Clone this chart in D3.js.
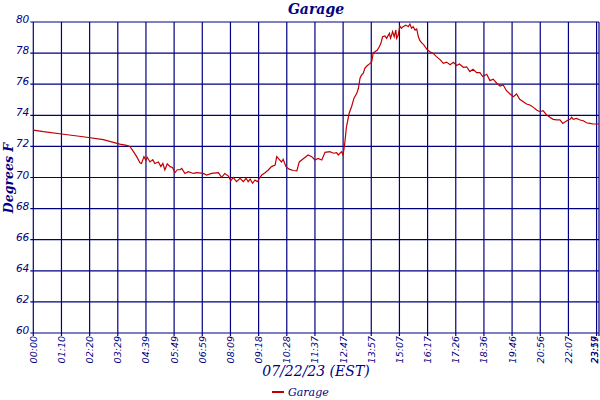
<!DOCTYPE html>
<html><head><meta charset="utf-8">
<script src="https://cdn.jsdelivr.net/npm/d3@7"></script>
<style>body{margin:0;background:#fff}</style>
</head><body>
<svg id="c" width="600" height="400"></svg>
<script>
const title = "Garage";
const yTitle = "Degrees F";
const xTitle = "07/22/23 (EST)";
const seriesName = "Garage";
const tickIdx = [0,70,140,210,280,350,420,490,560,630,700,770,840,910,980,1050,1120,1190,1260,1330,1400,1406];
const tickLabels = ["00:00","01:10","02:20","03:29","04:39","05:49","06:59","08:09","09:18","10:28","11:37","12:47","13:57","15:07","16:17","17:26","18:36","19:46","20:56","22:07","23:17","23:59"];
const yTicks = [60,62,64,66,68,70,72,74,76,78,80];
const sampleIdx = [0,25,75,124,174,215,232,240,249,257,265,269,275,280,283,290,297,302,311,317,322,327,333,340,346,352,358,365,369,377,385,398,406,422,431,443,460,468,476,485,491,497,505,514,522,529,534,539,545,551,557,562,568,576,584,592,601,605,611,617,621,628,636,646,655,661,671,683,692,700,708,717,725,737,746,754,758,766,770,773,775,778,785,791,797,804,808,812,816,820,824,829,837,841,845,849,855,860,864,868,874,878,885,888,893,897,901,903,907,911,915,919,926,932,936,940,944,949,953,957,961,965,971,978,986,994,1002,1011,1019,1027,1036,1044,1052,1059,1069,1077,1085,1093,1102,1110,1117,1127,1135,1143,1152,1160,1168,1176,1185,1193,1201,1209,1218,1226,1234,1243,1251,1259,1267,1276,1284,1292,1301,1309,1316,1326,1334,1338,1342,1350,1359,1367,1375,1383,1392,1404,1406];
const temps = [73.05,72.95,72.78,72.62,72.43,72.15,72.07,72.0,71.66,71.34,70.95,70.91,71.34,71.1,71.3,71.0,71.15,70.9,71.0,70.7,70.9,70.48,70.88,70.7,70.65,70.31,70.5,70.5,70.59,70.26,70.37,70.26,70.31,70.26,70.16,70.26,70.31,70.01,70.26,70.09,69.8,70.0,69.73,69.95,69.73,69.95,69.73,69.9,69.63,69.84,69.73,69.95,70.16,70.31,70.48,70.7,70.8,71.34,71.17,71.0,71.17,70.7,70.54,70.45,70.43,71.0,71.2,71.45,71.34,71.13,71.23,71.13,71.62,71.66,71.56,71.6,71.45,71.66,71.45,72.0,72.41,73.2,74.13,74.55,75.1,75.41,75.74,76.38,76.6,76.7,77.02,77.17,77.34,77.45,78.03,78.09,78.2,78.41,78.63,79.05,79.1,78.95,79.27,78.95,79.38,79.05,79.48,78.95,79.16,79.74,79.59,79.7,79.8,79.7,79.87,79.6,79.7,79.48,79.55,79.05,78.8,78.67,78.52,78.24,78.09,77.98,77.77,77.58,77.34,77.42,77.25,77.41,77.2,77.3,77.09,77.12,76.81,76.96,76.74,76.74,76.49,76.64,76.23,76.32,76.06,75.88,75.95,75.58,75.37,75.2,75.37,75.03,74.87,74.73,74.66,74.51,74.34,74.23,74.3,74.02,73.87,73.74,73.7,73.7,73.48,73.65,73.74,73.87,73.74,73.8,73.7,73.65,73.52,73.48,73.44,73.44,73.44];

const navy = "#000080", red = "#c00000";
const serif = "'DejaVu Serif', serif";
const sans = "'DejaVu Sans', sans-serif";
const svg = d3.select("#c");
const m = {l:33.3, r:599, t:22, b:333};
const x = d3.scaleLinear().domain([0, 1406]).range([m.l, m.r]);
const y = d3.scaleLinear().domain([60, 80]).range([m.b, m.t]);

// grid
const g = svg.append("g");
g.selectAll("line.v").data(tickIdx).join("line")
  .attr("x1", d=>x(d)).attr("x2", d=>x(d)).attr("y1", m.t).attr("y2", m.b+3)
  .attr("stroke", navy).attr("stroke-width", 1.2);
g.selectAll("line.h").data(yTicks).join("line")
  .attr("x1", m.l-3).attr("x2", m.r).attr("y1", d=>y(d)).attr("y2", d=>y(d))
  .attr("stroke", navy).attr("stroke-width", 1.2);

// y labels
svg.append("g").selectAll("text").data(yTicks).join("text")
  .attr("x", m.l-4).attr("y", d=>y(d)+1).attr("text-anchor","end")
  .attr("font-family", sans).attr("font-style","italic").attr("font-size", 10.5)
  .attr("fill", navy).text(d=>d);

// x labels
svg.append("g").selectAll("text").data(tickIdx).join("text")
  .attr("transform", d=>`translate(${Math.min(x(d)+3.5, 598)},${m.b+3}) rotate(-90)`)
  .attr("text-anchor","end")
  .attr("font-family", sans).attr("font-style","italic").attr("font-size", 9.5)
  .attr("fill", navy).text((d,i)=>tickLabels[i]);

// line
const line = d3.line().x((d,i)=>x(sampleIdx[i])).y(d=>y(d));
svg.append("path").datum(temps).attr("d", line)
  .attr("fill","none").attr("stroke", red).attr("stroke-width", 1.2);

// titles
svg.append("text").attr("x", 316).attr("y", 14).attr("text-anchor","middle")
  .attr("font-family", serif).attr("font-style","italic").attr("font-weight","bold")
  .attr("font-size", 14).attr("fill", navy).text(title);
svg.append("text").attr("transform","translate(13,178) rotate(-90)").attr("text-anchor","middle")
  .attr("font-family", serif).attr("font-style","italic").attr("font-weight","bold")
  .attr("font-size", 12.5).attr("fill", navy).text(yTitle);
svg.append("text").attr("x", 316).attr("y", 376).attr("text-anchor","middle")
  .attr("font-family", serif).attr("font-style","italic")
  .attr("font-size", 14).attr("fill", navy).text(xTitle);

// legend
svg.append("line").attr("x1", 272).attr("x2", 284).attr("y1", 392).attr("y2", 392)
  .attr("stroke", red).attr("stroke-width", 2);
svg.append("text").attr("x", 288).attr("y", 396)
  .attr("font-family", serif).attr("font-style","italic")
  .attr("font-size", 11).attr("fill", navy).text(seriesName);
</script>
</body></html>
